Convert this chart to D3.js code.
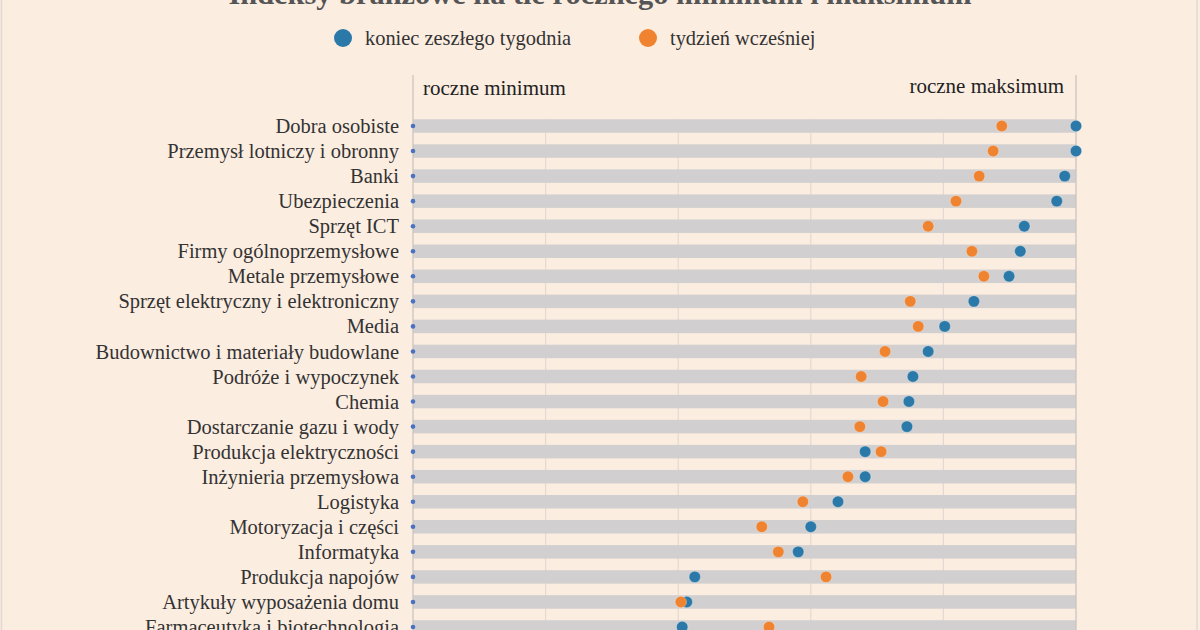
<!DOCTYPE html>
<html><head><meta charset="utf-8">
<script src="https://cdn.jsdelivr.net/npm/d3@7"></script>
<style>body{margin:0;background:#fcede1;} svg{display:block}</style>
</head><body>
<svg id="c" width="1200" height="630"></svg>
<script>
const title = "Indeksy branżowe na tle rocznego minimum i maksimum";
const seriesNames = ["koniec zeszłego tygodnia", "tydzień wcześniej"];
const categories = [
  "Dobra osobiste", "Przemysł lotniczy i obronny", "Banki", "Ubezpieczenia",
  "Sprzęt ICT", "Firmy ogólnoprzemysłowe", "Metale przemysłowe",
  "Sprzęt elektryczny i elektroniczny", "Media", "Budownictwo i materiały budowlane",
  "Podróże i wypoczynek", "Chemia", "Dostarczanie gazu i wody",
  "Produkcja elektryczności", "Inżynieria przemysłowa", "Logistyka",
  "Motoryzacja i części", "Informatyka", "Produkcja napojów",
  "Artykuły wyposażenia domu", "Farmaceutyka i biotechnologia"
];
const lastWeek   = [100, 100, 98.3, 97.1, 92.2, 91.6, 89.9, 84.6, 80.2, 77.7, 75.4, 74.8, 74.5, 68.2, 68.2, 64.1, 60.0, 58.1, 42.5, 41.3, 40.6];
const weekBefore = [88.8, 87.5, 85.4, 81.9, 77.7, 84.3, 86.1, 75.0, 76.2, 71.2, 67.6, 70.9, 67.4, 70.6, 65.6, 58.8, 52.6, 55.1, 62.3, 40.4, 53.7];
const yearMin = categories.map(() => 0);
const xTicks = [0, 20, 40, 60, 80, 100];
const endLabels = ["roczne minimum", "roczne maksimum"];

const svg = d3.select("#c");
const FONT = "'Liberation Serif', serif";
const BLUE = "#2a79a8", ORANGE = "#f0832f", MINBLUE = "#4a72c2";

svg.append("rect").attr("x", 0).attr("y", 0).attr("width", 1200).attr("height", 630).attr("fill", "#fcede1");

const x = d3.scaleLinear().domain([0, 100]).range([413, 1076]);
const y = d3.scalePoint().domain(categories).range([126, 627]);
const barH = 13.5;

// title (cut off at top, as in the reference)
svg.append("text").attr("x", 600).attr("y", 4).attr("text-anchor", "middle")
  .attr("font-family", FONT).attr("font-weight", "bold").attr("font-size", 30.4)
  .attr("fill", "#555").text(title);

// legend
const legend = svg.append("g");
const lx = [343, 648];
seriesNames.forEach((n, i) => {
  legend.append("circle").attr("cx", lx[i]).attr("cy", 38).attr("r", 9).attr("fill", [BLUE, ORANGE][i]);
  legend.append("text").attr("x", lx[i] + 22).attr("y", 45).attr("font-family", FONT)
    .attr("font-size", 20.4).attr("fill", "#333").text(n);
});

// gridlines
svg.append("g").selectAll("line").data(xTicks.slice(1, -1)).join("line")
  .attr("x1", d => x(d)).attr("x2", d => x(d))
  .attr("y1", y(categories[0]) - barH / 2).attr("y2", 630)
  .attr("stroke", "#e3d9d1").attr("stroke-width", 1.2);

// bars
svg.append("g").selectAll("rect").data(categories).join("rect")
  .attr("x", x(0)).attr("width", x(100) - x(0))
  .attr("y", d => y(d) - barH / 2).attr("height", barH)
  .attr("fill", "#d1cfcf");

// edge lines
svg.append("g").selectAll("line").data([xTicks[0], xTicks[xTicks.length - 1]]).join("line")
  .attr("x1", d => x(d)).attr("x2", d => x(d))
  .attr("y1", 75).attr("y2", 630)
  .attr("stroke", "#c8c2bd").attr("stroke-width", 1.2);

// end labels
svg.append("text").attr("x", x(0) + 10).attr("y", 95).attr("font-family", FONT)
  .attr("font-size", 21).attr("fill", "#222").text(endLabels[0]);
svg.append("text").attr("x", x(100) - 12).attr("y", 93).attr("text-anchor", "end").attr("font-family", FONT)
  .attr("font-size", 21).attr("fill", "#222").text(endLabels[1]);

// category labels
const yAxis = d3.axisLeft(y).tickSize(0).tickPadding(14);
const ga = svg.append("g").attr("transform", `translate(${x(0)},0)`).call(yAxis);
ga.select(".domain").remove();
ga.selectAll("text").attr("font-family", FONT).attr("font-size", 20.5).attr("fill", "#333");

// min dots
svg.append("g").selectAll("circle").data(categories).join("circle")
  .attr("cx", (d, i) => x(yearMin[i])).attr("cy", d => y(d)).attr("r", 2.3).attr("fill", MINBLUE);

// points
svg.append("g").selectAll("circle").data(categories).join("circle")
  .attr("cx", (d, i) => x(lastWeek[i])).attr("cy", d => y(d)).attr("r", 5.7)
  .attr("fill", BLUE).attr("stroke", "rgba(255,255,255,0.35)").attr("stroke-width", 0.8);
svg.append("g").selectAll("circle").data(categories).join("circle")
  .attr("cx", (d, i) => x(weekBefore[i])).attr("cy", d => y(d)).attr("r", 5.7)
  .attr("fill", ORANGE).attr("stroke", "rgba(255,255,255,0.35)").attr("stroke-width", 0.8);

// frame
svg.append("rect").attr("x", 1.5).attr("y", -5).attr("width", 1195.5).attr("height", 640)
  .attr("fill", "none").attr("stroke", "#e0d8d2").attr("stroke-width", 1.5);
</script>
</body></html>
